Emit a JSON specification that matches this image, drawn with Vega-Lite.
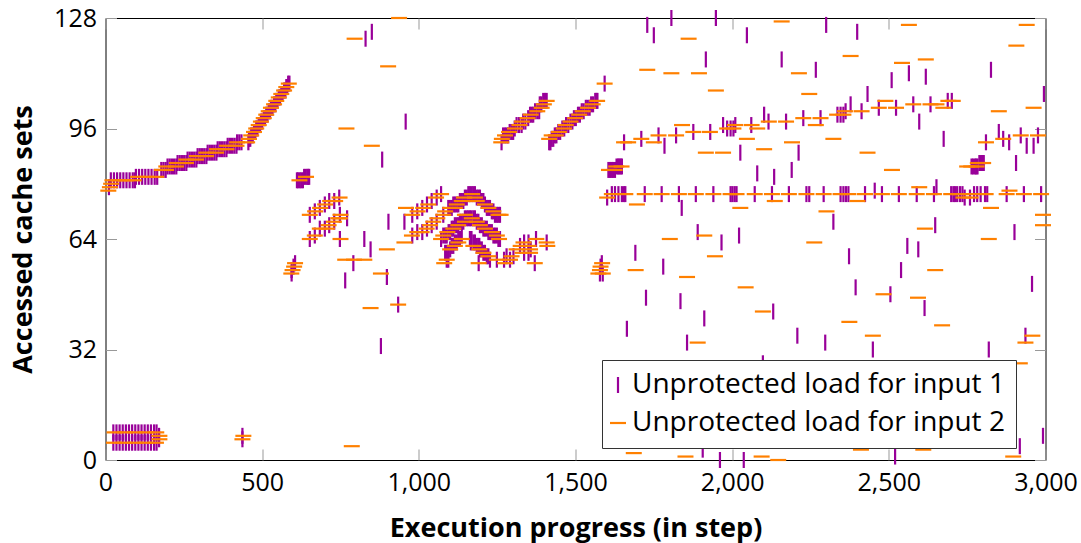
{"$schema":"https://vega.github.io/schema/vega-lite/v6.json","width":940,"height":442,"autosize":"none","padding":{"left":105.5,"top":18,"right":35,"bottom":83},"background":"white","config":{"view":{"stroke":"#000","strokeWidth":1},"font":"Open Sans"},"layer":[{"data":{"values":[
{"input":1,"x":11,"y":79},{"input":1,"x":17,"y":81},{"input":1,"x":27,"y":81},{"input":1,"x":37,"y":81},{"input":1,"x":47,"y":81},{"input":1,"x":57,"y":81},{"input":1,"x":67,"y":81},{"input":1,"x":77,"y":81},{"input":1,"x":87,"y":81},{"input":1,"x":94,"y":81},
{"input":1,"x":97,"y":82},{"input":1,"x":107,"y":82},{"input":1,"x":117,"y":82},{"input":1,"x":127,"y":82},{"input":1,"x":137,"y":82},{"input":1,"x":147,"y":82},{"input":1,"x":157,"y":82},{"input":1,"x":165,"y":82},
{"input":1,"x":178,"y":84},{"input":1,"x":185,"y":84},{"input":1,"x":192,"y":84},{"input":1,"x":198,"y":85},{"input":1,"x":205,"y":85},{"input":1,"x":212,"y":85},{"input":1,"x":219,"y":85},{"input":1,"x":226,"y":85},
{"input":1,"x":230,"y":86},{"input":1,"x":237,"y":86},{"input":1,"x":244,"y":86},{"input":1,"x":251,"y":86},{"input":1,"x":258,"y":86},{"input":1,"x":262,"y":87},{"input":1,"x":269,"y":87},{"input":1,"x":276,"y":87},{"input":1,"x":283,"y":87},{"input":1,"x":290,"y":87},
{"input":1,"x":294,"y":88},{"input":1,"x":301,"y":88},{"input":1,"x":308,"y":88},{"input":1,"x":315,"y":88},{"input":1,"x":322,"y":88},{"input":1,"x":326,"y":89},{"input":1,"x":333,"y":89},{"input":1,"x":340,"y":89},{"input":1,"x":347,"y":89},{"input":1,"x":354,"y":89},
{"input":1,"x":358,"y":90},{"input":1,"x":365,"y":90},{"input":1,"x":372,"y":90},{"input":1,"x":379,"y":90},{"input":1,"x":386,"y":90},{"input":1,"x":390,"y":91},{"input":1,"x":397,"y":91},{"input":1,"x":404,"y":91},{"input":1,"x":411,"y":91},{"input":1,"x":418,"y":91},
{"input":1,"x":420,"y":92},{"input":1,"x":427,"y":92},{"input":1,"x":434,"y":92},{"input":1,"x":456,"y":92},
{"input":1,"x":458,"y":93},{"input":1,"x":465,"y":94},{"input":1,"x":474,"y":95},{"input":1,"x":481,"y":96},{"input":1,"x":489,"y":97},{"input":1,"x":496,"y":98},{"input":1,"x":505,"y":99},{"input":1,"x":513,"y":100},{"input":1,"x":521,"y":101},{"input":1,"x":528,"y":102},{"input":1,"x":538,"y":103},{"input":1,"x":545,"y":104},{"input":1,"x":553,"y":105},{"input":1,"x":561,"y":106},{"input":1,"x":570,"y":107},{"input":1,"x":577,"y":108},{"input":1,"x":583,"y":109},{"input":1,"x":587,"y":109},
{"input":1,"x":462,"y":93},{"input":1,"x":470,"y":94},{"input":1,"x":478,"y":95},{"input":1,"x":485,"y":96},{"input":1,"x":493,"y":97},{"input":1,"x":500,"y":98},{"input":1,"x":509,"y":99},{"input":1,"x":517,"y":100},{"input":1,"x":525,"y":101},{"input":1,"x":533,"y":102},{"input":1,"x":542,"y":103},{"input":1,"x":549,"y":104},{"input":1,"x":557,"y":105},{"input":1,"x":565,"y":106},{"input":1,"x":574,"y":107},{"input":1,"x":580,"y":108},
{"input":1,"x":25,"y":8},{"input":1,"x":35,"y":8},{"input":1,"x":45,"y":8},{"input":1,"x":55,"y":8},{"input":1,"x":65,"y":8},{"input":1,"x":75,"y":8},{"input":1,"x":85,"y":8},{"input":1,"x":95,"y":8},{"input":1,"x":105,"y":8},{"input":1,"x":115,"y":8},{"input":1,"x":125,"y":8},{"input":1,"x":135,"y":8},{"input":1,"x":145,"y":8},{"input":1,"x":155,"y":8},{"input":1,"x":163,"y":8},
{"input":1,"x":25,"y":5},{"input":1,"x":35,"y":5},{"input":1,"x":45,"y":5},{"input":1,"x":55,"y":5},{"input":1,"x":65,"y":5},{"input":1,"x":75,"y":5},{"input":1,"x":85,"y":5},{"input":1,"x":95,"y":5},{"input":1,"x":105,"y":5},{"input":1,"x":115,"y":5},{"input":1,"x":125,"y":5},{"input":1,"x":135,"y":5},{"input":1,"x":145,"y":5},{"input":1,"x":155,"y":5},{"input":1,"x":163,"y":5},
{"input":1,"x":171,"y":6},{"input":1,"x":171,"y":7},{"input":1,"x":437,"y":6},{"input":1,"x":437,"y":7},{"input":1,"x":879,"y":33},
{"input":1,"x":611,"y":81},{"input":1,"x":615,"y":81},{"input":1,"x":620,"y":81},{"input":1,"x":625,"y":81},{"input":1,"x":630,"y":81},{"input":1,"x":634,"y":82},{"input":1,"x":639,"y":82},{"input":1,"x":644,"y":82},{"input":1,"x":647,"y":82},{"input":1,"x":650,"y":82},
{"input":1,"x":652,"y":71},{"input":1,"x":668,"y":72},{"input":1,"x":684,"y":73},{"input":1,"x":700,"y":74},{"input":1,"x":714,"y":75},{"input":1,"x":730,"y":75},{"input":1,"x":746,"y":76},
{"input":1,"x":652,"y":64},{"input":1,"x":668,"y":65},{"input":1,"x":684,"y":67},{"input":1,"x":700,"y":67},{"input":1,"x":714,"y":68},{"input":1,"x":730,"y":69},{"input":1,"x":748,"y":71},{"input":1,"x":748,"y":64},{"input":1,"x":771,"y":70},
{"input":1,"x":883,"y":87},{"input":1,"x":826,"y":64},{"input":1,"x":846,"y":61},{"input":1,"x":791,"y":57},{"input":1,"x":765,"y":52},{"input":1,"x":903,"y":69},{"input":1,"x":954,"y":69},{"input":1,"x":898,"y":53},{"input":1,"x":934,"y":45},
{"input":1,"x":830,"y":122},{"input":1,"x":850,"y":124},{"input":1,"x":958,"y":98},
{"input":1,"x":979,"y":71},{"input":1,"x":995,"y":72},{"input":1,"x":1011,"y":73},{"input":1,"x":1026,"y":74},{"input":1,"x":1041,"y":75},{"input":1,"x":1057,"y":76},{"input":1,"x":1071,"y":77},
{"input":1,"x":979,"y":65},{"input":1,"x":995,"y":66},{"input":1,"x":1011,"y":66},{"input":1,"x":1026,"y":67},{"input":1,"x":1041,"y":68},{"input":1,"x":1057,"y":69},{"input":1,"x":1078,"y":71},{"input":1,"x":1071,"y":64},
{"input":1,"x":1094,"y":73},{"input":1,"x":1105,"y":73},{"input":1,"x":1115,"y":74},{"input":1,"x":1126,"y":74},{"input":1,"x":1137,"y":75},{"input":1,"x":1147,"y":76},{"input":1,"x":1158,"y":77},{"input":1,"x":1169,"y":77},{"input":1,"x":1179,"y":77},{"input":1,"x":1190,"y":76},{"input":1,"x":1201,"y":75},{"input":1,"x":1211,"y":74},{"input":1,"x":1222,"y":73},{"input":1,"x":1233,"y":72},{"input":1,"x":1243,"y":71},{"input":1,"x":1254,"y":71},{"input":1,"x":1259,"y":71},
{"input":1,"x":1099,"y":73},{"input":1,"x":1110,"y":74},{"input":1,"x":1121,"y":74},{"input":1,"x":1131,"y":75},{"input":1,"x":1142,"y":75},{"input":1,"x":1153,"y":76},{"input":1,"x":1163,"y":77},{"input":1,"x":1174,"y":77},{"input":1,"x":1185,"y":76},{"input":1,"x":1195,"y":76},{"input":1,"x":1206,"y":75},{"input":1,"x":1217,"y":73},{"input":1,"x":1227,"y":73},{"input":1,"x":1238,"y":72},{"input":1,"x":1249,"y":71},
{"input":1,"x":1078,"y":65},{"input":1,"x":1089,"y":65},{"input":1,"x":1100,"y":66},{"input":1,"x":1110,"y":67},{"input":1,"x":1121,"y":68},{"input":1,"x":1131,"y":69},{"input":1,"x":1142,"y":69},{"input":1,"x":1153,"y":70},{"input":1,"x":1163,"y":70},{"input":1,"x":1174,"y":70},{"input":1,"x":1185,"y":69},{"input":1,"x":1195,"y":68},{"input":1,"x":1206,"y":67},{"input":1,"x":1217,"y":67},{"input":1,"x":1227,"y":66},{"input":1,"x":1238,"y":65},{"input":1,"x":1249,"y":65},{"input":1,"x":1259,"y":64},
{"input":1,"x":1084,"y":65},{"input":1,"x":1095,"y":66},{"input":1,"x":1105,"y":67},{"input":1,"x":1115,"y":68},{"input":1,"x":1126,"y":68},{"input":1,"x":1137,"y":69},{"input":1,"x":1147,"y":70},{"input":1,"x":1158,"y":70},{"input":1,"x":1168,"y":70},{"input":1,"x":1179,"y":70},{"input":1,"x":1190,"y":69},{"input":1,"x":1201,"y":68},{"input":1,"x":1211,"y":67},{"input":1,"x":1222,"y":66},{"input":1,"x":1233,"y":66},{"input":1,"x":1243,"y":65},{"input":1,"x":1254,"y":64},
{"input":1,"x":1084,"y":60},{"input":1,"x":1094,"y":60},{"input":1,"x":1100,"y":61},{"input":1,"x":1110,"y":62},{"input":1,"x":1121,"y":63},{"input":1,"x":1126,"y":64},{"input":1,"x":1137,"y":65},{"input":1,"x":1163,"y":64},{"input":1,"x":1174,"y":63},{"input":1,"x":1185,"y":62},{"input":1,"x":1195,"y":61},{"input":1,"x":1206,"y":60},{"input":1,"x":1217,"y":59},{"input":1,"x":1227,"y":58},{"input":1,"x":1089,"y":58},
{"input":1,"x":1089,"y":60},{"input":1,"x":1105,"y":62},{"input":1,"x":1115,"y":63},{"input":1,"x":1131,"y":64},{"input":1,"x":1168,"y":64},{"input":1,"x":1179,"y":63},{"input":1,"x":1190,"y":62},{"input":1,"x":1201,"y":61},{"input":1,"x":1211,"y":60},{"input":1,"x":1222,"y":59},{"input":1,"x":1094,"y":58},
{"input":1,"x":1249,"y":58},{"input":1,"x":1272,"y":58},{"input":1,"x":1280,"y":59},{"input":1,"x":1291,"y":58},{"input":1,"x":1302,"y":59},{"input":1,"x":1323,"y":62},{"input":1,"x":1336,"y":63},{"input":1,"x":1336,"y":60},{"input":1,"x":1350,"y":63},{"input":1,"x":1350,"y":60},{"input":1,"x":1357,"y":61},{"input":1,"x":1374,"y":64},{"input":1,"x":1370,"y":57},{"input":1,"x":1408,"y":63},{"input":1,"x":1191,"y":57},{"input":1,"x":1166,"y":63},{"input":1,"x":1193,"y":62},
{"input":1,"x":605,"y":57},{"input":1,"x":600,"y":56},{"input":1,"x":594,"y":55},{"input":1,"x":594,"y":54},{"input":1,"x":1584,"y":57},{"input":1,"x":1578,"y":54},{"input":1,"x":1587,"y":54},{"input":1,"x":1580,"y":56},
{"input":1,"x":1264,"y":92},{"input":1,"x":1269,"y":94},{"input":1,"x":1275,"y":94},{"input":1,"x":1280,"y":94},{"input":1,"x":1285,"y":94},{"input":1,"x":1290,"y":95},{"input":1,"x":1296,"y":95},{"input":1,"x":1301,"y":95},{"input":1,"x":1306,"y":96},{"input":1,"x":1312,"y":97},{"input":1,"x":1320,"y":97},{"input":1,"x":1328,"y":97},{"input":1,"x":1333,"y":98},{"input":1,"x":1340,"y":98},{"input":1,"x":1349,"y":99},{"input":1,"x":1355,"y":100},{"input":1,"x":1360,"y":100},{"input":1,"x":1365,"y":100},{"input":1,"x":1371,"y":101},{"input":1,"x":1378,"y":101},{"input":1,"x":1384,"y":101},{"input":1,"x":1386,"y":103},{"input":1,"x":1391,"y":103},{"input":1,"x":1397,"y":104},{"input":1,"x":1403,"y":104},{"input":1,"x":1408,"y":104},
{"input":1,"x":1416,"y":92},{"input":1,"x":1420,"y":92},{"input":1,"x":1424,"y":93},{"input":1,"x":1429,"y":93},{"input":1,"x":1434,"y":94},{"input":1,"x":1439,"y":94},{"input":1,"x":1445,"y":95},{"input":1,"x":1451,"y":95},{"input":1,"x":1458,"y":96},{"input":1,"x":1464,"y":96},{"input":1,"x":1470,"y":97},{"input":1,"x":1477,"y":97},{"input":1,"x":1484,"y":98},{"input":1,"x":1490,"y":98},{"input":1,"x":1495,"y":99},{"input":1,"x":1501,"y":99},{"input":1,"x":1508,"y":100},{"input":1,"x":1514,"y":100},{"input":1,"x":1520,"y":101},{"input":1,"x":1526,"y":101},{"input":1,"x":1533,"y":102},{"input":1,"x":1539,"y":102},{"input":1,"x":1545,"y":102},{"input":1,"x":1550,"y":103},{"input":1,"x":1556,"y":103},{"input":1,"x":1563,"y":104},{"input":1,"x":1567,"y":104},{"input":1,"x":1570,"y":104},
{"input":1,"x":1616,"y":77},{"input":1,"x":1626,"y":77},{"input":1,"x":1637,"y":77},{"input":1,"x":1648,"y":77},{"input":1,"x":1655,"y":77},{"input":1,"x":1659,"y":77},{"input":1,"x":1721,"y":77},{"input":1,"x":1775,"y":77},{"input":1,"x":1830,"y":77},{"input":1,"x":1884,"y":77},{"input":1,"x":1940,"y":77},{"input":1,"x":1995,"y":77},{"input":1,"x":2001,"y":77},{"input":1,"x":2008,"y":77},{"input":1,"x":2014,"y":77},{"input":1,"x":2072,"y":77},{"input":1,"x":2127,"y":77},{"input":1,"x":2181,"y":77},{"input":1,"x":2237,"y":77},{"input":1,"x":2246,"y":77},{"input":1,"x":2292,"y":77},{"input":1,"x":2346,"y":77},{"input":1,"x":2355,"y":77},{"input":1,"x":2363,"y":77},{"input":1,"x":2371,"y":77},{"input":1,"x":2424,"y":77},{"input":1,"x":2478,"y":77},{"input":1,"x":2532,"y":77},{"input":1,"x":2589,"y":77},{"input":1,"x":2644,"y":77},{"input":1,"x":2699,"y":77},{"input":1,"x":2706,"y":77},{"input":1,"x":2711,"y":77},{"input":1,"x":2718,"y":77},{"input":1,"x":2727,"y":77},{"input":1,"x":2735,"y":77},{"input":1,"x":2772,"y":77},{"input":1,"x":2782,"y":77},{"input":1,"x":2793,"y":77},{"input":1,"x":2807,"y":77},{"input":1,"x":2814,"y":77},{"input":1,"x":2876,"y":77},{"input":1,"x":2931,"y":77},{"input":1,"x":2986,"y":77},
{"input":1,"x":1601,"y":76},{"input":1,"x":2742,"y":76},{"input":1,"x":2759,"y":76},{"input":1,"x":2455,"y":78},{"input":1,"x":2652,"y":79},
{"input":1,"x":1605,"y":84},{"input":1,"x":1610,"y":84},{"input":1,"x":1615,"y":84},{"input":1,"x":1620,"y":84},{"input":1,"x":1626,"y":84},{"input":1,"x":1631,"y":85},{"input":1,"x":1636,"y":85},{"input":1,"x":1640,"y":85},{"input":1,"x":1644,"y":85},{"input":1,"x":1648,"y":85},
{"input":1,"x":2764,"y":85},{"input":1,"x":2769,"y":85},{"input":1,"x":2775,"y":85},{"input":1,"x":2779,"y":85},{"input":1,"x":2783,"y":85},{"input":1,"x":2789,"y":86},{"input":1,"x":2793,"y":86},{"input":1,"x":2797,"y":86},{"input":1,"x":2800,"y":86},{"input":1,"x":2803,"y":86},
{"input":1,"x":1655,"y":92},{"input":1,"x":1710,"y":93},{"input":1,"x":1765,"y":94},{"input":1,"x":1821,"y":94},{"input":1,"x":1876,"y":95},{"input":1,"x":1930,"y":95},{"input":1,"x":1971,"y":97},{"input":1,"x":1984,"y":96},{"input":1,"x":1995,"y":96},{"input":1,"x":2004,"y":96},{"input":1,"x":2010,"y":97},{"input":1,"x":2061,"y":97},{"input":1,"x":2116,"y":98},{"input":1,"x":2172,"y":98},{"input":1,"x":2227,"y":99},{"input":1,"x":2282,"y":99},{"input":1,"x":2336,"y":100},{"input":1,"x":2346,"y":100},{"input":1,"x":2355,"y":100},{"input":1,"x":2362,"y":101},{"input":1,"x":2413,"y":101},{"input":1,"x":2468,"y":102},{"input":1,"x":2523,"y":102},{"input":1,"x":2578,"y":103},{"input":1,"x":2633,"y":103},{"input":1,"x":2688,"y":104},{"input":1,"x":2701,"y":104},{"input":1,"x":2102,"y":100},{"input":1,"x":2378,"y":103},{"input":1,"x":2432,"y":106},{"input":1,"x":2597,"y":98},
{"input":1,"x":1729,"y":126},{"input":1,"x":1750,"y":123},{"input":1,"x":1806,"y":128},{"input":1,"x":1916,"y":116},{"input":1,"x":1948,"y":128},{"input":1,"x":2047,"y":123},{"input":1,"x":2158,"y":116},{"input":1,"x":2267,"y":113},{"input":1,"x":2300,"y":126},{"input":1,"x":2399,"y":124},{"input":1,"x":2509,"y":110},{"input":1,"x":2564,"y":112},{"input":1,"x":2618,"y":111},{"input":1,"x":2826,"y":113},{"input":1,"x":2995,"y":106},{"input":1,"x":1784,"y":91},{"input":1,"x":2026,"y":89},{"input":1,"x":2212,"y":89},{"input":1,"x":2675,"y":93},{"input":1,"x":2851,"y":95},{"input":1,"x":2865,"y":93},{"input":1,"x":2884,"y":92},{"input":1,"x":2810,"y":92},{"input":1,"x":2921,"y":94},{"input":1,"x":2940,"y":91},{"input":1,"x":2962,"y":91},{"input":1,"x":2976,"y":94},{"input":1,"x":2906,"y":86},{"input":1,"x":2080,"y":83},{"input":1,"x":2134,"y":82},{"input":1,"x":2190,"y":84},{"input":1,"x":1593,"y":109},
{"input":1,"x":1839,"y":73},{"input":1,"x":2323,"y":69},{"input":1,"x":2648,"y":68},{"input":1,"x":2901,"y":66},{"input":1,"x":1890,"y":66},{"input":1,"x":2022,"y":65},{"input":1,"x":1966,"y":63},{"input":1,"x":2559,"y":62},{"input":1,"x":2594,"y":61},{"input":1,"x":1691,"y":60},{"input":1,"x":2373,"y":59},{"input":1,"x":1780,"y":56},{"input":1,"x":2539,"y":55},{"input":1,"x":2957,"y":51},{"input":1,"x":2394,"y":50},{"input":1,"x":2505,"y":48},{"input":1,"x":1725,"y":47},{"input":1,"x":1835,"y":46},{"input":1,"x":2614,"y":44},{"input":1,"x":2131,"y":43},{"input":1,"x":1911,"y":41},{"input":1,"x":1664,"y":38},{"input":1,"x":2208,"y":36},{"input":1,"x":1856,"y":34},{"input":1,"x":2297,"y":34},{"input":1,"x":2936,"y":36},{"input":1,"x":2449,"y":32},{"input":1,"x":2819,"y":32},{"input":1,"x":2098,"y":28},
{"input":1,"x":1906,"y":3},{"input":1,"x":1961,"y":0},{"input":1,"x":2037,"y":0},{"input":1,"x":2520,"y":1},{"input":1,"x":2918,"y":4},{"input":1,"x":2992,"y":7},
{"input":2,"x":9,"y":78},{"input":2,"x":14,"y":79},{"input":2,"x":18,"y":80},{"input":2,"x":22,"y":81},{"input":2,"x":43,"y":81},{"input":2,"x":64,"y":81},{"input":2,"x":90,"y":81},{"input":2,"x":104,"y":82},{"input":2,"x":130,"y":82},{"input":2,"x":162,"y":82},
{"input":2,"x":180,"y":84},{"input":2,"x":193,"y":84},{"input":2,"x":194,"y":85},{"input":2,"x":225,"y":85},{"input":2,"x":228,"y":86},{"input":2,"x":257,"y":86},{"input":2,"x":258,"y":87},{"input":2,"x":289,"y":87},{"input":2,"x":292,"y":88},{"input":2,"x":321,"y":88},{"input":2,"x":322,"y":89},{"input":2,"x":353,"y":89},{"input":2,"x":356,"y":90},{"input":2,"x":386,"y":90},{"input":2,"x":388,"y":91},{"input":2,"x":418,"y":91},{"input":2,"x":420,"y":92},{"input":2,"x":452,"y":92},
{"input":2,"x":458,"y":93},{"input":2,"x":465,"y":94},{"input":2,"x":474,"y":95},{"input":2,"x":481,"y":96},{"input":2,"x":489,"y":97},{"input":2,"x":496,"y":98},{"input":2,"x":505,"y":99},{"input":2,"x":513,"y":100},{"input":2,"x":521,"y":101},{"input":2,"x":528,"y":102},{"input":2,"x":538,"y":103},{"input":2,"x":545,"y":104},{"input":2,"x":553,"y":105},{"input":2,"x":561,"y":106},{"input":2,"x":570,"y":107},{"input":2,"x":577,"y":108},{"input":2,"x":585,"y":109},
{"input":2,"x":29,"y":8},{"input":2,"x":62,"y":8},{"input":2,"x":95,"y":8},{"input":2,"x":130,"y":8},{"input":2,"x":162,"y":8},{"input":2,"x":27,"y":5},{"input":2,"x":60,"y":5},{"input":2,"x":95,"y":5},{"input":2,"x":128,"y":5},{"input":2,"x":161,"y":5},{"input":2,"x":172,"y":7},{"input":2,"x":172,"y":6},{"input":2,"x":440,"y":7},{"input":2,"x":437,"y":6},{"input":2,"x":786,"y":4},
{"input":2,"x":640,"y":82},{"input":2,"x":619,"y":81},
{"input":2,"x":652,"y":71},{"input":2,"x":669,"y":72},{"input":2,"x":685,"y":73},{"input":2,"x":701,"y":74},{"input":2,"x":717,"y":75},{"input":2,"x":733,"y":75},{"input":2,"x":747,"y":76},
{"input":2,"x":652,"y":64},{"input":2,"x":668,"y":65},{"input":2,"x":684,"y":67},{"input":2,"x":707,"y":67},{"input":2,"x":712,"y":68},{"input":2,"x":729,"y":69},{"input":2,"x":743,"y":70},{"input":2,"x":748,"y":70},{"input":2,"x":750,"y":71},{"input":2,"x":750,"y":64},
{"input":2,"x":765,"y":58},{"input":2,"x":793,"y":58},{"input":2,"x":826,"y":58},{"input":2,"x":898,"y":61},{"input":2,"x":879,"y":54},{"input":2,"x":846,"y":44},{"input":2,"x":934,"y":45},{"input":2,"x":959,"y":73},{"input":2,"x":954,"y":63},
{"input":2,"x":795,"y":122},{"input":2,"x":937,"y":128},{"input":2,"x":902,"y":114},{"input":2,"x":769,"y":96},{"input":2,"x":850,"y":91},
{"input":2,"x":1071,"y":77},{"input":2,"x":1170,"y":77},{"input":2,"x":1055,"y":76},{"input":2,"x":1144,"y":76},{"input":2,"x":1179,"y":76},{"input":2,"x":1137,"y":75},{"input":2,"x":1185,"y":75},{"input":2,"x":1030,"y":74},{"input":2,"x":1121,"y":74},{"input":2,"x":1211,"y":74},{"input":2,"x":1014,"y":73},{"input":2,"x":1100,"y":73},{"input":2,"x":1115,"y":73},{"input":2,"x":1222,"y":73},{"input":2,"x":996,"y":72},{"input":2,"x":1084,"y":72},{"input":2,"x":1238,"y":72},{"input":2,"x":979,"y":71},{"input":2,"x":1078,"y":71},{"input":2,"x":1147,"y":71},{"input":2,"x":1254,"y":71},{"input":2,"x":1261,"y":71},{"input":2,"x":1059,"y":70},{"input":2,"x":1169,"y":70},{"input":2,"x":1046,"y":69},{"input":2,"x":1147,"y":69},{"input":2,"x":1185,"y":69},{"input":2,"x":1036,"y":68},{"input":2,"x":1126,"y":68},{"input":2,"x":1195,"y":68},{"input":2,"x":1025,"y":67},{"input":2,"x":1110,"y":67},{"input":2,"x":1211,"y":67},{"input":2,"x":995,"y":66},{"input":2,"x":1009,"y":66},{"input":2,"x":1091,"y":66},{"input":2,"x":1233,"y":66},{"input":2,"x":978,"y":65},{"input":2,"x":1078,"y":65},{"input":2,"x":1249,"y":65},{"input":2,"x":1071,"y":64},{"input":2,"x":1137,"y":64},{"input":2,"x":1256,"y":64},{"input":2,"x":1375,"y":64},{"input":2,"x":1126,"y":63},{"input":2,"x":1334,"y":63},{"input":2,"x":1408,"y":63},{"input":2,"x":1115,"y":62},{"input":2,"x":1174,"y":62},{"input":2,"x":1325,"y":62},{"input":2,"x":1350,"y":62},{"input":2,"x":1410,"y":62},{"input":2,"x":1100,"y":61},{"input":2,"x":1193,"y":61},{"input":2,"x":1312,"y":61},{"input":2,"x":1355,"y":61},{"input":2,"x":1206,"y":60},{"input":2,"x":1331,"y":60},{"input":2,"x":1355,"y":60},{"input":2,"x":1222,"y":59},{"input":2,"x":1296,"y":59},{"input":2,"x":1089,"y":58},{"input":2,"x":1249,"y":58},{"input":2,"x":1291,"y":58},{"input":2,"x":1081,"y":57},{"input":2,"x":1191,"y":57},{"input":2,"x":1275,"y":57},{"input":2,"x":1370,"y":57},
{"input":2,"x":605,"y":57},{"input":2,"x":602,"y":56},{"input":2,"x":597,"y":55},{"input":2,"x":593,"y":54},{"input":2,"x":1585,"y":57},{"input":2,"x":1580,"y":56},{"input":2,"x":1578,"y":55},{"input":2,"x":1573,"y":54},{"input":2,"x":1587,"y":54},
{"input":2,"x":1263,"y":92},{"input":2,"x":1265,"y":93},{"input":2,"x":1275,"y":94},{"input":2,"x":1288,"y":95},{"input":2,"x":1307,"y":96},{"input":2,"x":1321,"y":97},{"input":2,"x":1329,"y":98},{"input":2,"x":1347,"y":99},{"input":2,"x":1357,"y":100},{"input":2,"x":1378,"y":101},{"input":2,"x":1392,"y":102},{"input":2,"x":1399,"y":103},{"input":2,"x":1408,"y":104},
{"input":2,"x":1416,"y":93},{"input":2,"x":1424,"y":94},{"input":2,"x":1437,"y":94},{"input":2,"x":1447,"y":95},{"input":2,"x":1463,"y":96},{"input":2,"x":1469,"y":97},{"input":2,"x":1484,"y":98},{"input":2,"x":1499,"y":99},{"input":2,"x":1512,"y":100},{"input":2,"x":1523,"y":101},{"input":2,"x":1540,"y":102},{"input":2,"x":1555,"y":103},{"input":2,"x":1569,"y":104},
{"input":2,"x":1616,"y":77},{"input":2,"x":1659,"y":77},{"input":2,"x":1721,"y":77},{"input":2,"x":1775,"y":77},{"input":2,"x":1830,"y":77},{"input":2,"x":1884,"y":77},{"input":2,"x":1940,"y":77},{"input":2,"x":1995,"y":77},{"input":2,"x":2014,"y":77},{"input":2,"x":2072,"y":77},{"input":2,"x":2127,"y":77},{"input":2,"x":2181,"y":77},{"input":2,"x":2237,"y":77},{"input":2,"x":2292,"y":77},{"input":2,"x":2346,"y":77},{"input":2,"x":2371,"y":77},{"input":2,"x":2424,"y":77},{"input":2,"x":2478,"y":77},{"input":2,"x":2532,"y":77},{"input":2,"x":2589,"y":77},{"input":2,"x":2644,"y":77},{"input":2,"x":2699,"y":77},{"input":2,"x":2727,"y":77},{"input":2,"x":2759,"y":77},{"input":2,"x":2809,"y":77},{"input":2,"x":2876,"y":77},{"input":2,"x":2931,"y":77},{"input":2,"x":2986,"y":77},
{"input":2,"x":1601,"y":76},{"input":2,"x":1696,"y":74},{"input":2,"x":2026,"y":73},{"input":2,"x":2136,"y":75},{"input":2,"x":2400,"y":75},{"input":2,"x":2597,"y":79},{"input":2,"x":2738,"y":76},{"input":2,"x":2761,"y":76},{"input":2,"x":2885,"y":78},{"input":2,"x":2826,"y":73},
{"input":2,"x":1630,"y":85},{"input":2,"x":1647,"y":85},{"input":2,"x":1607,"y":84},{"input":2,"x":1625,"y":84},{"input":2,"x":2750,"y":85},{"input":2,"x":2763,"y":85},{"input":2,"x":2780,"y":85},{"input":2,"x":2784,"y":86},{"input":2,"x":2801,"y":86},
{"input":2,"x":1655,"y":92},{"input":2,"x":1668,"y":92},{"input":2,"x":1750,"y":92},{"input":2,"x":1710,"y":93},{"input":2,"x":1765,"y":94},{"input":2,"x":1821,"y":94},{"input":2,"x":1876,"y":95},{"input":2,"x":1929,"y":95},{"input":2,"x":1840,"y":97},{"input":2,"x":1984,"y":96},{"input":2,"x":2004,"y":96},{"input":2,"x":2009,"y":97},{"input":2,"x":2062,"y":97},{"input":2,"x":2080,"y":96},{"input":2,"x":2117,"y":98},{"input":2,"x":2172,"y":98},{"input":2,"x":2227,"y":99},{"input":2,"x":2282,"y":99},{"input":2,"x":2267,"y":97},{"input":2,"x":2335,"y":100},{"input":2,"x":2355,"y":100},{"input":2,"x":2360,"y":101},{"input":2,"x":2413,"y":101},{"input":2,"x":2468,"y":102},{"input":2,"x":2523,"y":102},{"input":2,"x":2578,"y":103},{"input":2,"x":2633,"y":103},{"input":2,"x":2652,"y":103},{"input":2,"x":2674,"y":102},{"input":2,"x":2690,"y":104},{"input":2,"x":2704,"y":104},{"input":2,"x":2489,"y":104},
{"input":2,"x":1729,"y":113},{"input":2,"x":1806,"y":112},{"input":2,"x":1894,"y":112},{"input":2,"x":1861,"y":122},{"input":2,"x":2158,"y":127},{"input":2,"x":1948,"y":107},{"input":2,"x":2213,"y":112},{"input":2,"x":2378,"y":117},{"input":2,"x":2246,"y":106},{"input":2,"x":2564,"y":126},{"input":2,"x":2542,"y":115},{"input":2,"x":2618,"y":116},{"input":2,"x":2940,"y":126},{"input":2,"x":2907,"y":120},{"input":2,"x":2851,"y":101},{"input":2,"x":2962,"y":102},{"input":2,"x":2047,"y":93},{"input":2,"x":1916,"y":89},{"input":2,"x":1971,"y":89},{"input":2,"x":2102,"y":90},{"input":2,"x":2191,"y":92},{"input":2,"x":2323,"y":93},{"input":2,"x":2432,"y":89},{"input":2,"x":2510,"y":84},{"input":2,"x":2810,"y":92},{"input":2,"x":2865,"y":93},{"input":2,"x":2921,"y":94},{"input":2,"x":2976,"y":94},{"input":2,"x":1593,"y":109},
{"input":2,"x":2301,"y":72},{"input":2,"x":2992,"y":71},{"input":2,"x":2992,"y":68},{"input":2,"x":2615,"y":67},{"input":2,"x":1911,"y":65},{"input":2,"x":1801,"y":64},{"input":2,"x":2262,"y":63},{"input":2,"x":2819,"y":64},{"input":2,"x":1945,"y":59},{"input":2,"x":1692,"y":55},{"input":2,"x":2648,"y":55},{"input":2,"x":1856,"y":53},{"input":2,"x":2043,"y":50},{"input":2,"x":2483,"y":48},{"input":2,"x":2593,"y":47},{"input":2,"x":2098,"y":43},{"input":2,"x":2374,"y":40},{"input":2,"x":2670,"y":39},{"input":2,"x":2449,"y":36},{"input":2,"x":1890,"y":34},{"input":2,"x":2958,"y":36},{"input":2,"x":2936,"y":34},{"input":2,"x":2918,"y":28},
{"input":2,"x":1686,"y":2},{"input":2,"x":1851,"y":1},{"input":2,"x":2094,"y":1},{"input":2,"x":2147,"y":0},{"input":2,"x":2411,"y":3},{"input":2,"x":2610,"y":3},{"input":2,"x":2897,"y":1}
]},"mark":{"type":"point","filled":false,"strokeWidth":2.2,"size":256,"opacity":1},"encoding":{
"x":{"field":"x","type":"quantitative","scale":{"domain":[0,3000],"nice":false,"zero":false},"axis":{"orient":"bottom","values":[0,500,1000,1500,2000,2500,3000],"format":",d","grid":false,"domain":false,"tickSize":-11,"tickColor":"#999999","tickWidth":1,"labelFont":"Open Sans","labelFontSize":25,"labelColor":"#000","labelPadding":21,"labelFlush":false,"title":"Execution progress (in step)","titleFont":"Open Sans","titleFontSize":27,"titleFontWeight":"bold","titleColor":"#000","titlePadding":20}},
"y":{"field":"y","type":"quantitative","scale":{"domain":[0,128],"nice":false,"zero":false},"axis":{"orient":"left","values":[0,32,64,96,128],"grid":false,"domain":false,"tickSize":-11,"tickColor":"#999999","tickWidth":1,"labelFont":"Open Sans","labelFontSize":25,"labelColor":"#000","labelPadding":20,"title":"Accessed cache sets","titleFont":"Open Sans","titleFontSize":27,"titleFontWeight":"bold","titleColor":"#000","titlePadding":16}},
"color":{"field":"input","type":"nominal","scale":{"domain":[1,2],"range":["#990099","#ff8000"]},"legend":{"title":null,"orient":"none","legendX":496.5,"legendY":342,"direction":"vertical","fillColor":"#fff","strokeColor":"#333","padding":11,"rowPadding":10,"labelFont":"Open Sans","labelFontSize":28,"labelColor":"#000","labelLimit":500,"labelOffset":0,"symbolOffset":-9,"symbolSize":256,"symbolStrokeWidth":2.2,"symbolOpacity":1,"labelExpr":"'Unprotected load for input ' + datum.label"}},
"shape":{"field":"input","type":"nominal","scale":{"domain":[1,2],"range":["M0,-1L0,1","M-1,0L1,0"]},"legend":{"title":null,"orient":"none","legendX":496.5,"legendY":342,"direction":"vertical","fillColor":"#fff","strokeColor":"#333","padding":11,"rowPadding":10,"labelFont":"Open Sans","labelFontSize":28,"labelColor":"#000","labelLimit":500,"labelOffset":0,"symbolOffset":-9,"symbolSize":256,"symbolStrokeWidth":2.2,"symbolOpacity":1,"labelExpr":"'Unprotected load for input ' + datum.label"}}
}},{"data":{"values":[{"x":0,"y":0}]},"mark":{"type":"point","opacity":0},"encoding":{
"x":{"field":"x","type":"quantitative","axis":{"orient":"top","values":[0,500,1000,1500,2000,2500,3000],"grid":false,"domain":false,"labels":false,"title":null,"tickSize":-11,"tickColor":"#999999","tickWidth":1}},
"y":{"field":"y","type":"quantitative","axis":{"orient":"right","values":[0,32,64,96,128],"grid":false,"domain":false,"labels":false,"title":null,"tickSize":-11,"tickColor":"#999999","tickWidth":1}}
}}],"resolve":{"axis":{"x":"independent","y":"independent"},"scale":{"x":"shared","y":"shared"}}}
